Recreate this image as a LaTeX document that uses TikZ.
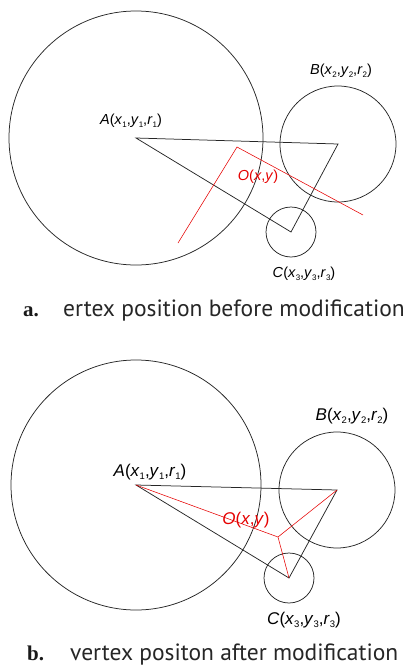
\documentclass[tikz,border=0pt]{standalone}
\usepackage{fontspec}
\newfontfamily\labfont{Liberation Sans}
\newfontfamily\capfont{PT Sans}
\newfontfamily\capbold{Liberation Serif}
\def\subsz{7}
\newcommand{\sbs}[1]{\raisebox{-0.35ex}{\fontsize{\subsz}{\subsz}\selectfont\upshape #1}}
\newcommand{\vlab}[2]{\textit{#1}(\textit{x}\sbs{#2},\textit{y}\sbs{#2},\textit{r}\sbs{#2})}
\begin{document}
\begin{tikzpicture}[x=1pt,y=-1pt,
  ring/.style={draw=black!85,line width=0.75pt},
  edge/.style={draw=black!85,line width=0.75pt,line join=miter},
  redline/.style={draw=red!90!black,line width=0.55pt},
  labA/.style={font=\labfont\fontsize{14.5}{17}\selectfont\def\subsz{8}},
  labB/.style={font=\labfont\fontsize{17}{20}\selectfont\def\subsz{9.5}},
  redlabA/.style={labA,text=red!90!black},
  redlabB/.style={labB,text=red!90!black},
  capnum/.style={font=\capbold\bfseries\fontsize{21}{24}\selectfont,text=black!90,anchor=base west,inner sep=0pt},
  captxt/.style={font=\capfont\fontsize{23.5}{26}\selectfont,text=black!85,anchor=base west,inner sep=0pt}]
\useasboundingbox (0,0) rectangle (410,667);
% ---------- panel a ----------
\coordinate (a1) at (136,138);
\coordinate (a2) at (338,144);
\coordinate (a3) at (291,232);
\draw[ring] (a1) circle[radius=127];
\draw[ring] (a2) circle[radius=58];
\draw[ring] (a3) circle[radius=25];
\draw[edge] (a1) -- (a2) -- (a3) -- cycle;
\coordinate (ar1) at (178,243);
\coordinate (ar2) at (237,147);
\coordinate (ar3) at (363,215);
\draw[redline] (ar1) -- (ar2) -- (ar3);
\node[labA] (la1) at (131,121) {\vlab{A}{1}};
\node[labA] (la2) at (341,71) {\vlab{B}{2}};
\node[labA] (la3) at (304,274) {\vlab{C}{3}};
\node[redlabA] (lao) at (258,177) {\textit{O}(\textit{x},\textit{y})};
\node[capnum] (capa) at (23,316) {a.};
\node[captxt] (capat) at (63,316) {ertex position before modification};
% ---------- panel b ----------
\coordinate (b1) at (136,485);
\coordinate (b2) at (337,490);
\coordinate (b3) at (289,578);
\coordinate (bo) at (278,537);
\draw[ring] (b1) circle[radius=125];
\draw[ring] (b2) circle[radius=58];
\draw[ring] (b3) circle[radius=25];
\draw[edge] (b1) -- (b2) -- (b3) -- cycle;
\draw[redline] (b1) -- (bo) (b2) -- (bo) (b3) -- (bo);
\node[labB] (lb1) at (150,472) {\vlab{A}{1}};
\node[labB] (lb2) at (352,416) {\vlab{B}{2}};
\node[labB] (lb3) at (304,620) {\vlab{C}{3}};
\node[redlabB] (lbo) at (246,520) {\textit{O}(\textit{x},\textit{y})};
\node[capnum] (capb) at (27,660) {b.};
\node[captxt] (capbt) at (70,660) {vertex positon after modification};
\end{tikzpicture}
\end{document}
